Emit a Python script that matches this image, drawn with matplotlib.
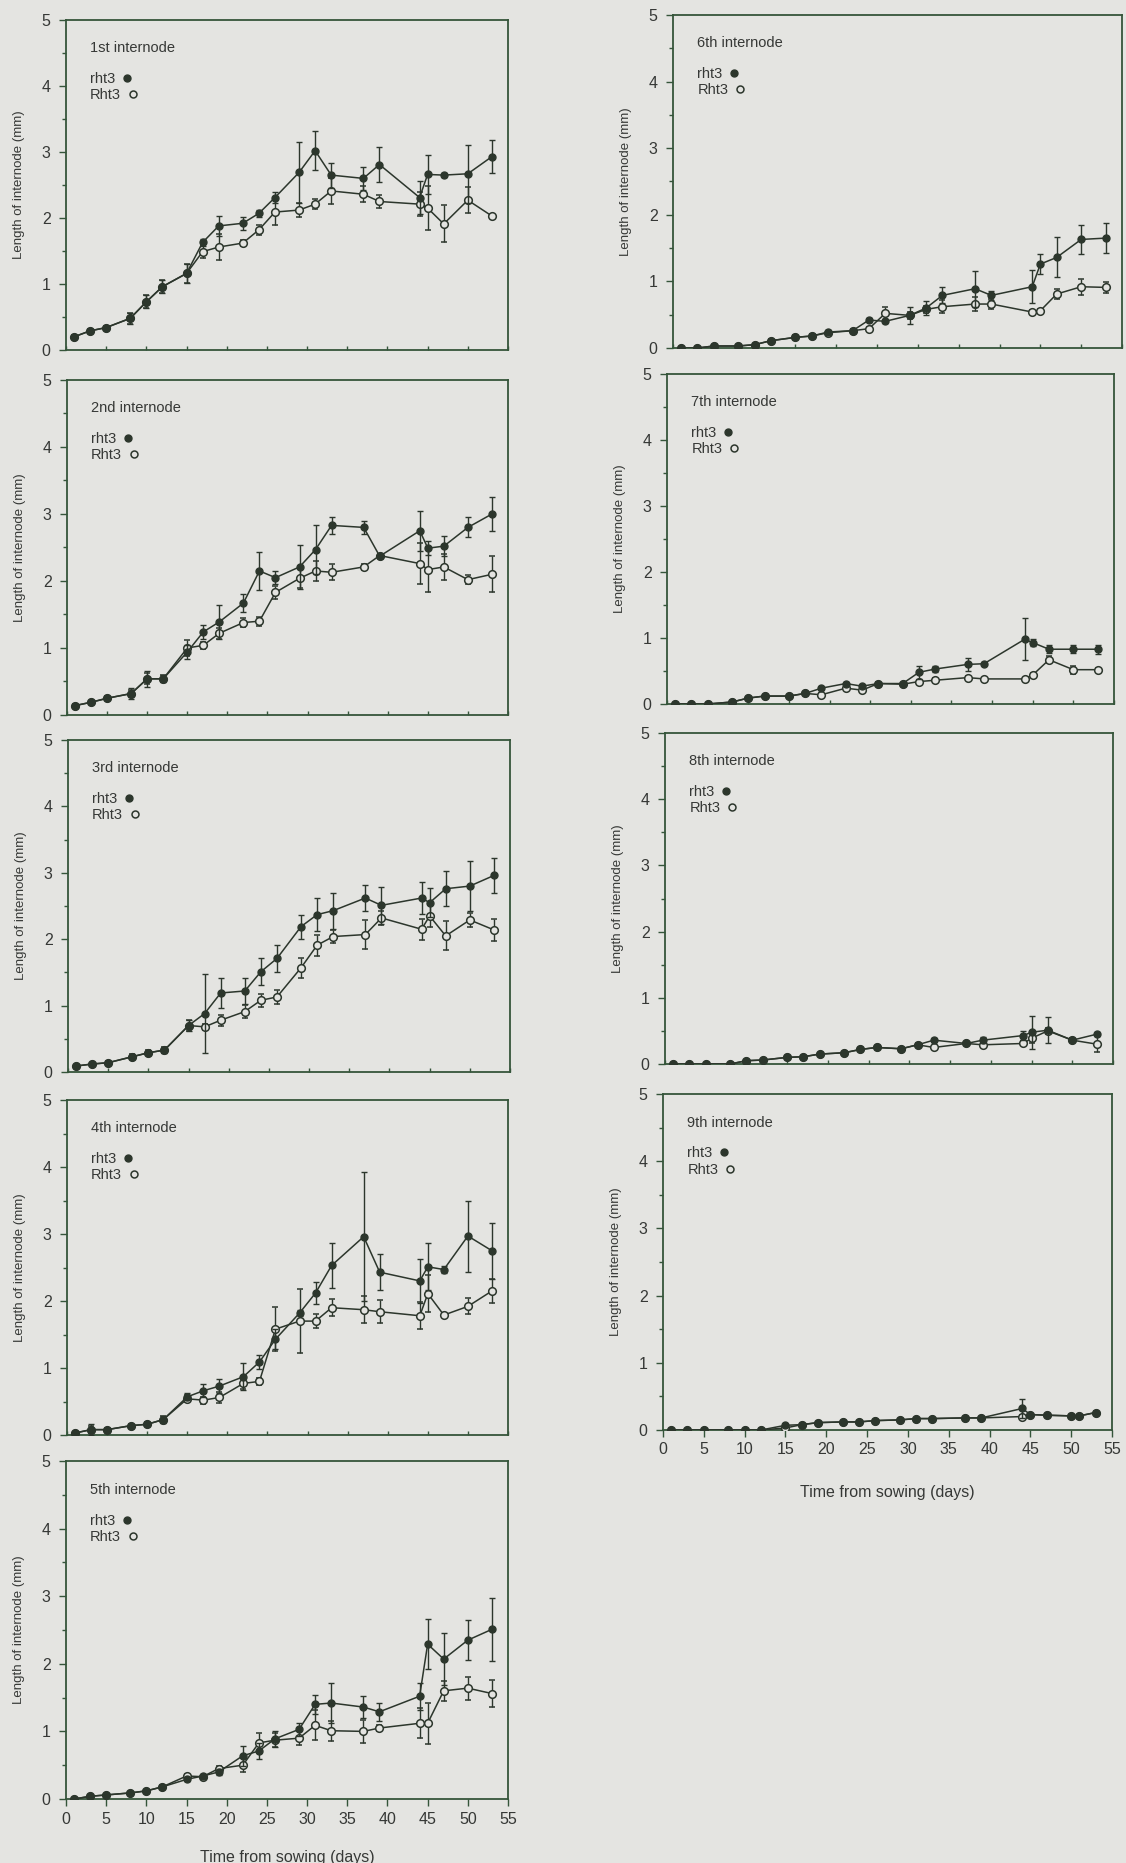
import matplotlib
matplotlib.use("Agg")
import matplotlib.pyplot as plt
from matplotlib.lines import Line2D
from matplotlib.ticker import MultipleLocator

plt.rcParams['font.family'] = ['Liberation Sans', 'DejaVu Sans']

days = [1, 3, 5, 8, 10, 12, 15, 17, 19, 22, 24, 26, 29, 31, 33, 37, 39, 44, 45, 47, 50, 53]
days9 = [1, 3, 5, 8, 10, 12, 15, 17, 19, 22, 24, 26, 29, 31, 33, 37, 39, 44, 45, 47, 50, 51, 53]

titles = ["1st internode", "2nd internode", "3rd internode", "4th internode", "5th internode",
          "6th internode", "7th internode", "8th internode", "9th internode"]

# rht3 (filled) means and errors
rht3_1 = [0.20, 0.29, 0.34, 0.48, 0.73, 0.96, 1.16, 1.63, 1.88, 1.92, 2.07, 2.31, 2.69, 3.02, 2.65, 2.60, 2.81, 2.31, 2.66, 2.65, 2.67, 2.93]
rht3_1e = [0.02, 0.03, 0.03, 0.08, 0.10, 0.10, 0.15, 0.05, 0.15, 0.10, 0.05, 0.08, 0.46, 0.30, 0.19, 0.17, 0.26, 0.25, 0.30, 0.03, 0.44, 0.25]
Rht3_1 = [0.20, 0.29, 0.34, 0.48, 0.73, 0.96, 1.16, 1.49, 1.56, 1.62, 1.82, 2.09, 2.12, 2.21, 2.41, 2.36, 2.25, 2.21, 2.15, 1.91, 2.27, 2.03]
Rht3_1e = [0.02, 0.03, 0.03, 0.08, 0.10, 0.10, 0.15, 0.10, 0.20, 0.05, 0.08, 0.20, 0.10, 0.08, 0.20, 0.12, 0.10, 0.18, 0.33, 0.28, 0.20, 0.02]

rht3_2 = [0.14, 0.19, 0.25, 0.32, 0.54, 0.54, 0.94, 1.24, 1.39, 1.67, 2.15, 2.05, 2.21, 2.47, 2.83, 2.80, 2.37, 2.75, 2.49, 2.52, 2.80, 3.00]
rht3_2e = [0.02, 0.02, 0.03, 0.08, 0.12, 0.05, 0.10, 0.10, 0.25, 0.13, 0.28, 0.10, 0.33, 0.37, 0.13, 0.10, 0.03, 0.30, 0.10, 0.15, 0.15, 0.25]
Rht3_2 = [0.14, 0.19, 0.25, 0.32, 0.54, 0.54, 1.00, 1.04, 1.22, 1.38, 1.40, 1.83, 2.04, 2.15, 2.13, 2.21, 2.38, 2.26, 2.17, 2.21, 2.02, 2.10]
Rht3_2e = [0.02, 0.02, 0.03, 0.05, 0.08, 0.05, 0.12, 0.05, 0.08, 0.07, 0.07, 0.10, 0.15, 0.15, 0.12, 0.05, 0.03, 0.30, 0.33, 0.20, 0.07, 0.27]

rht3_3 = [0.09, 0.12, 0.14, 0.23, 0.29, 0.33, 0.70, 0.88, 1.19, 1.22, 1.51, 1.71, 2.19, 2.37, 2.43, 2.62, 2.51, 2.62, 2.55, 2.76, 2.80, 2.96]
rht3_3e = [0.01, 0.02, 0.02, 0.04, 0.04, 0.05, 0.08, 0.60, 0.23, 0.20, 0.20, 0.20, 0.18, 0.25, 0.27, 0.20, 0.28, 0.24, 0.22, 0.26, 0.38, 0.26]
Rht3_3 = [0.09, 0.12, 0.14, 0.23, 0.29, 0.33, 0.70, 0.68, 0.78, 0.91, 1.08, 1.13, 1.57, 1.91, 2.04, 2.07, 2.32, 2.15, 2.35, 2.05, 2.29, 2.14]
Rht3_3e = [0.01, 0.02, 0.02, 0.04, 0.04, 0.05, 0.08, 0.05, 0.08, 0.10, 0.10, 0.10, 0.15, 0.16, 0.10, 0.22, 0.10, 0.16, 0.17, 0.22, 0.10, 0.16]

rht3_4 = [0.03, 0.08, 0.08, 0.14, 0.16, 0.23, 0.57, 0.66, 0.73, 0.87, 1.09, 1.43, 1.82, 2.12, 2.53, 2.96, 2.43, 2.30, 2.51, 2.47, 2.97, 2.75]
rht3_4e = [0.02, 0.08, 0.02, 0.03, 0.03, 0.05, 0.05, 0.10, 0.10, 0.20, 0.10, 0.15, 0.05, 0.17, 0.34, 0.96, 0.27, 0.33, 0.35, 0.05, 0.53, 0.42]
Rht3_4 = [0.03, 0.08, 0.08, 0.14, 0.16, 0.23, 0.54, 0.52, 0.56, 0.77, 0.80, 1.58, 1.70, 1.70, 1.90, 1.87, 1.84, 1.78, 2.11, 1.79, 1.92, 2.15]
Rht3_4e = [0.02, 0.05, 0.02, 0.03, 0.03, 0.05, 0.05, 0.05, 0.08, 0.08, 0.05, 0.33, 0.48, 0.10, 0.13, 0.20, 0.17, 0.20, 0.28, 0.03, 0.12, 0.18]

rht3_5 = [0.00, 0.04, 0.06, 0.09, 0.12, 0.18, 0.29, 0.34, 0.40, 0.64, 0.71, 0.89, 1.03, 1.40, 1.42, 1.36, 1.29, 1.52, 2.29, 2.07, 2.35, 2.51]
rht3_5e = [0.01, 0.01, 0.01, 0.02, 0.02, 0.02, 0.03, 0.03, 0.04, 0.15, 0.12, 0.12, 0.10, 0.14, 0.30, 0.16, 0.13, 0.20, 0.37, 0.38, 0.30, 0.47]
Rht3_5 = [0.00, 0.04, 0.06, 0.09, 0.12, 0.18, 0.34, 0.33, 0.45, 0.50, 0.83, 0.87, 0.90, 1.09, 1.01, 1.00, 1.05, 1.12, 1.12, 1.60, 1.64, 1.56]
Rht3_5e = [0.01, 0.01, 0.01, 0.02, 0.02, 0.02, 0.03, 0.03, 0.04, 0.10, 0.15, 0.10, 0.10, 0.22, 0.15, 0.17, 0.05, 0.22, 0.30, 0.15, 0.17, 0.20]

rht3_6 = [0.00, 0.00, 0.03, 0.03, 0.05, 0.11, 0.16, 0.18, 0.24, 0.26, 0.42, 0.40, 0.49, 0.60, 0.79, 0.89, 0.79, 0.92, 1.26, 1.36, 1.63, 1.65]
rht3_6e = [0.00, 0.00, 0.01, 0.01, 0.01, 0.02, 0.03, 0.03, 0.03, 0.03, 0.03, 0.03, 0.13, 0.10, 0.12, 0.27, 0.07, 0.25, 0.15, 0.30, 0.22, 0.22]
Rht3_6 = [0.00, 0.00, 0.03, 0.03, 0.05, 0.11, 0.16, 0.18, 0.23, 0.26, 0.29, 0.52, 0.49, 0.58, 0.62, 0.66, 0.66, 0.54, 0.56, 0.81, 0.92, 0.91]
Rht3_6e = [0.00, 0.00, 0.01, 0.01, 0.01, 0.02, 0.03, 0.03, 0.03, 0.03, 0.03, 0.10, 0.05, 0.05, 0.10, 0.10, 0.08, 0.03, 0.03, 0.07, 0.12, 0.08]

rht3_7 = [0.00, 0.00, 0.00, 0.03, 0.09, 0.12, 0.12, 0.16, 0.24, 0.31, 0.27, 0.31, 0.31, 0.48, 0.53, 0.60, 0.61, 0.98, 0.93, 0.83, 0.83, 0.83]
rht3_7e = [0.00, 0.00, 0.00, 0.01, 0.01, 0.01, 0.01, 0.02, 0.02, 0.02, 0.02, 0.02, 0.02, 0.10, 0.05, 0.10, 0.02, 0.32, 0.05, 0.06, 0.06, 0.07]
Rht3_7 = [0.00, 0.00, 0.00, 0.03, 0.09, 0.12, 0.12, 0.16, 0.14, 0.24, 0.21, 0.31, 0.30, 0.34, 0.36, 0.40, 0.38, 0.38, 0.44, 0.67, 0.52, 0.52]
Rht3_7e = [0.00, 0.00, 0.00, 0.01, 0.01, 0.01, 0.01, 0.02, 0.02, 0.02, 0.02, 0.02, 0.02, 0.02, 0.03, 0.03, 0.02, 0.02, 0.03, 0.05, 0.06, 0.02]

rht3_8 = [0.00, 0.00, 0.00, 0.00, 0.05, 0.06, 0.10, 0.11, 0.15, 0.17, 0.22, 0.25, 0.23, 0.29, 0.36, 0.31, 0.36, 0.43, 0.48, 0.51, 0.36, 0.45]
rht3_8e = [0.00, 0.00, 0.00, 0.00, 0.01, 0.01, 0.01, 0.01, 0.01, 0.01, 0.02, 0.02, 0.02, 0.02, 0.03, 0.02, 0.05, 0.07, 0.25, 0.20, 0.03, 0.03]
Rht3_8 = [0.00, 0.00, 0.00, 0.00, 0.05, 0.06, 0.10, 0.11, 0.15, 0.17, 0.22, 0.25, 0.23, 0.29, 0.25, 0.31, 0.29, 0.31, 0.39, 0.50, 0.36, 0.30]
Rht3_8e = [0.00, 0.00, 0.00, 0.00, 0.01, 0.01, 0.01, 0.01, 0.01, 0.01, 0.02, 0.02, 0.02, 0.02, 0.02, 0.02, 0.02, 0.03, 0.08, 0.05, 0.03, 0.12]

rht3_9 = [0.00, 0.00, 0.00, 0.00, 0.00, 0.00, 0.07, 0.08, 0.11, 0.12, 0.12, 0.14, 0.15, 0.17, 0.17, 0.18, 0.18, 0.32, 0.23, 0.22, 0.21, 0.21, 0.26]
rht3_9e = [0.00, 0.00, 0.00, 0.00, 0.00, 0.00, 0.01, 0.01, 0.01, 0.01, 0.01, 0.01, 0.01, 0.01, 0.01, 0.01, 0.01, 0.14, 0.02, 0.01, 0.01, 0.01, 0.02]
Rht3_9 = [0.00, 0.00, 0.00, 0.00, 0.00, 0.00, 0.03, 0.08, 0.11, 0.12, 0.12, 0.14, 0.15, 0.17, 0.17, 0.18, 0.18, 0.20, 0.23, 0.22, 0.21, 0.21, 0.26]
Rht3_9e = [0.00, 0.00, 0.00, 0.00, 0.00, 0.00, 0.01, 0.01, 0.01, 0.01, 0.01, 0.01, 0.01, 0.01, 0.01, 0.01, 0.01, 0.02, 0.02, 0.01, 0.01, 0.01, 0.02]

panels = [
    (days, rht3_1, rht3_1e, Rht3_1, Rht3_1e),
    (days, rht3_2, rht3_2e, Rht3_2, Rht3_2e),
    (days, rht3_3, rht3_3e, Rht3_3, Rht3_3e),
    (days, rht3_4, rht3_4e, Rht3_4, Rht3_4e),
    (days, rht3_5, rht3_5e, Rht3_5, Rht3_5e),
    (days, rht3_6, rht3_6e, Rht3_6, Rht3_6e),
    (days, rht3_7, rht3_7e, Rht3_7, Rht3_7e),
    (days, rht3_8, rht3_8e, Rht3_8, Rht3_8e),
    (days9, rht3_9, rht3_9e, Rht3_9, Rht3_9e),
]

W, H = 1126, 1863
BG = '#e4e4e1'
INK = '#2c362c'
SPINE = '#35553a'
TXT = '#363836'

# axes rectangles in pixels: (left, top, right, bottom)
rects = [
    (66, 20, 508, 350),
    (67, 380, 508, 715),
    (68, 740, 510, 1072),
    (67, 1100, 508, 1435),
    (66, 1461, 508, 1799),
    (673, 15, 1122, 348),
    (667, 374, 1114, 704),
    (665, 733, 1113, 1064),
    (663, 1094, 1112, 1430),
]

fig = plt.figure(figsize=(W / 100, H / 100), dpi=100, facecolor=BG)

for i, (rect, data) in enumerate(zip(rects, panels)):
    l, t, r, b = rect
    ax = fig.add_axes([l / W, 1 - b / H, (r - l) / W, (b - t) / H])
    ax.set_facecolor(BG)
    d, m1, e1, m2, e2 = data
    ax.errorbar(d, m2, yerr=e2, color=INK, lw=1.1, elinewidth=1.0, capsize=2.2,
                marker='o', ms=5.5, mfc=BG, mec=INK, mew=1.1, zorder=3)
    ax.errorbar(d, m1, yerr=e1, color=INK, lw=1.1, elinewidth=1.0, capsize=2.2,
                marker='o', ms=5.0, mfc=INK, mec=INK, zorder=4)
    ax.set_xlim(0, 55)
    ax.set_ylim(0, 5)
    for s in ax.spines.values():
        s.set_color(SPINE)
        s.set_linewidth(1.3)
    ax.yaxis.set_major_locator(MultipleLocator(1))
    ax.yaxis.set_minor_locator(MultipleLocator(0.5))
    ax.xaxis.set_major_locator(MultipleLocator(5))
    ax.tick_params(axis='y', which='major', direction='out', length=5, width=1,
                   color=SPINE, labelsize=11.5, labelcolor=TXT, pad=6)
    ax.tick_params(axis='y', which='minor', direction='out', length=3, width=1, color=SPINE)
    ax.set_ylabel("Length of internode (mm)", fontsize=9.5, color=TXT, labelpad=12)
    if i in (4, 8):
        ax.tick_params(axis='x', direction='out', length=5, width=1, color=SPINE,
                       labelsize=11.5, labelcolor=TXT, pad=4)
        ax.set_xlabel("Time from sowing (days)", fontsize=11.5, color=TXT,
                      labelpad=(17 if i == 4 else 20))
    else:
        ax.tick_params(axis='x', direction='in', length=3, width=1, color=SPINE,
                       labelbottom=False)
    ax.text(0.054, 0.915, titles[i], transform=ax.transAxes, fontsize=10.5,
            color=TXT, ha='left', va='center')
    handles = [Line2D([], [], ls='none', marker='o', ms=5, mfc=INK, mec=INK),
               Line2D([], [], ls='none', marker='o', ms=5, mfc=BG, mec=INK, mew=1.1)]
    leg = ax.legend(handles, ["rht3", "Rht3"], loc='upper left',
                    bbox_to_anchor=(0.035, 0.87), frameon=False, markerfirst=False,
                    handlelength=0.8, handletextpad=0.4, labelspacing=0.15,
                    fontsize=10.5, borderaxespad=0.2)
    for col in leg._legend_handle_box.get_children():
        col.align = 'left'
    for txt in leg.get_texts():
        txt.set_color(TXT)

fig.savefig("out.png", dpi=100, facecolor=BG)
